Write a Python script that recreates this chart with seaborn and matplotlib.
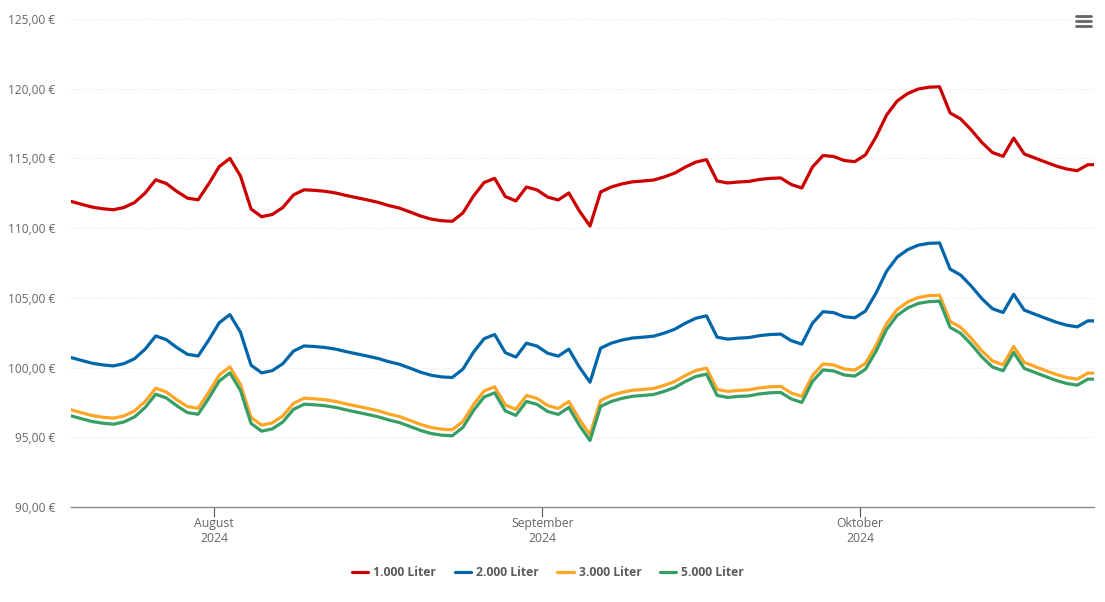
import matplotlib
matplotlib.use('Agg')
import matplotlib.pyplot as plt
import matplotlib.lines as mlines
import seaborn as sns
import pandas as pd

# daily prices, last point is the partial day at the right edge
dates = list(pd.date_range('2024-07-18 12:00', periods=97, freq='D')) + [pd.Timestamp('2024-10-23 02:00')]

liter_1000 = [111.92,111.71,111.51,111.39,111.32,111.48,111.84,112.52,113.47,113.2,
    112.63,112.15,112.03,113.17,114.42,115.0,113.74,111.37,110.82,110.98,
    111.48,112.38,112.75,112.71,112.64,112.52,112.34,112.18,112.02,111.85,
    111.62,111.44,111.16,110.87,110.65,110.53,110.49,111.09,112.3,113.27,
    113.57,112.27,111.95,112.95,112.74,112.23,112.02,112.52,111.23,110.15,
    112.59,112.95,113.17,113.32,113.38,113.45,113.67,113.95,114.38,114.74,
    114.91,113.38,113.24,113.31,113.35,113.49,113.57,113.6,113.13,112.88,
    114.38,115.21,115.14,114.85,114.77,115.25,116.54,118.11,119.12,119.66,
    119.98,120.11,120.14,118.26,117.83,117.04,116.14,115.42,115.15,116.46,
    115.32,115.03,114.74,114.46,114.24,114.12,114.55,114.55]

liter_2000 = [100.72,100.51,100.31,100.19,100.12,100.28,100.64,101.32,102.27,102.0,
    101.43,100.95,100.83,101.97,103.22,103.8,102.54,100.17,99.62,99.78,
    100.28,101.18,101.55,101.51,101.44,101.32,101.14,100.98,100.82,100.65,
    100.42,100.24,99.96,99.67,99.45,99.33,99.29,99.89,101.1,102.07,
    102.37,101.07,100.75,101.75,101.54,101.03,100.82,101.32,100.03,98.95,
    101.39,101.75,101.97,102.12,102.18,102.25,102.47,102.75,103.18,103.54,
    103.71,102.18,102.04,102.11,102.15,102.29,102.37,102.4,101.93,101.68,
    103.18,104.01,103.94,103.65,103.57,104.05,105.34,106.91,107.92,108.46,
    108.78,108.91,108.94,107.06,106.63,105.84,104.94,104.22,103.95,105.26,
    104.12,103.83,103.54,103.26,103.04,102.92,103.35,103.35]

liter_3000 = [96.97,96.76,96.56,96.44,96.37,96.53,96.89,97.57,98.52,98.25,
    97.68,97.2,97.08,98.22,99.47,100.05,98.79,96.42,95.87,96.03,
    96.53,97.43,97.8,97.76,97.69,97.57,97.39,97.23,97.07,96.9,
    96.67,96.49,96.21,95.92,95.7,95.58,95.54,96.14,97.35,98.32,
    98.62,97.32,97.0,98.0,97.79,97.28,97.07,97.57,96.28,95.2,
    97.64,98.0,98.22,98.37,98.43,98.5,98.72,99.0,99.43,99.79,
    99.96,98.43,98.29,98.36,98.4,98.54,98.62,98.65,98.18,97.93,
    99.43,100.26,100.19,99.9,99.82,100.3,101.59,103.16,104.17,104.71,
    105.03,105.16,105.19,103.31,102.88,102.09,101.19,100.47,100.2,101.51,
    100.37,100.08,99.79,99.51,99.29,99.17,99.6,99.6]

liter_5000 = [96.54,96.33,96.13,96.01,95.94,96.1,96.46,97.14,98.09,97.82,
    97.25,96.77,96.65,97.79,99.04,99.62,98.36,95.99,95.44,95.6,
    96.1,97.0,97.37,97.33,97.26,97.14,96.96,96.8,96.64,96.47,
    96.24,96.06,95.78,95.49,95.27,95.15,95.11,95.71,96.92,97.89,
    98.19,96.89,96.57,97.57,97.36,96.85,96.64,97.14,95.85,94.77,
    97.21,97.57,97.79,97.94,98.0,98.07,98.29,98.57,99.0,99.36,
    99.53,98.0,97.86,97.93,97.97,98.11,98.19,98.22,97.75,97.5,
    99.0,99.83,99.76,99.47,99.39,99.87,101.16,102.73,103.74,104.28,
    104.6,104.73,104.76,102.88,102.45,101.66,100.76,100.04,99.77,101.08,
    99.94,99.65,99.36,99.08,98.86,98.74,99.17,99.17]

series_names = ['1.000 Liter', '2.000 Liter', '3.000 Liter', '5.000 Liter']
colors = ['#cc0000', '#0066aa', '#ffa526', '#379e66']
y_ticks = [90, 95, 100, 105, 110, 115, 120, 125]
x_ticks = ['2024-08-01', '2024-09-01', '2024-10-01']
x_labels = ['August\n2024', 'September\n2024', 'Oktober\n2024']

sns.set_theme(style='white')
plt.rcParams['font.family'] = ['Open Sans', 'DejaVu Sans']

df = pd.DataFrame({'date': dates, '1.000 Liter': liter_1000, '2.000 Liter': liter_2000,
                   '3.000 Liter': liter_3000, '5.000 Liter': liter_5000})
long_df = df.melt(id_vars='date', var_name='menge', value_name='preis')

W, H = 1105, 602
fig = plt.figure(figsize=(W / 100, H / 100), dpi=100)
ax = fig.add_axes([71 / W, 1 - 507 / H, (1094 - 71) / W, (507 - 19) / H])

sns.lineplot(data=long_df, x='date', y='preis', hue='menge', hue_order=series_names,
             palette=colors, linewidth=2.3, ax=ax, legend=False, errorbar=None,
             solid_joinstyle='round', solid_capstyle='round')

ax.set_xlim(pd.Timestamp('2024-07-18 12:00'), pd.Timestamp('2024-10-23 02:00'))
ax.set_ylim(90, 125)
ax.set_xlabel('')
ax.set_ylabel('')

ax.set_yticks(y_ticks)
ax.set_yticklabels([f'{v},00 €' for v in y_ticks])
ax.set_xticks(pd.to_datetime(x_ticks))
ax.set_xticklabels(x_labels, linespacing=1.25)
ax.tick_params(axis='y', length=0, pad=11.4, labelsize=8.6, labelcolor='#666666')
ax.tick_params(axis='x', length=7.5, width=0.8, color='#555555', pad=-0.6, labelsize=8.8,
               labelcolor='#666666', bottom=True)

ax.grid(True, axis='y', color='#e6e6e6', linewidth=0.7, linestyle=(0, (1, 1.5)))
ax.set_axisbelow(True)
sns.despine(ax=ax, left=True, top=True, right=True)
ax.spines['bottom'].set_color('#888888')
ax.spines['bottom'].set_linewidth(1.0)

handles = [mlines.Line2D([], [], color=c, linewidth=2.3, solid_capstyle='round') for c in colors]
leg = fig.legend(handles, series_names, ncol=4, loc='center', bbox_to_anchor=(548 / W, 1 - 573 / H),
                 frameon=False, handlelength=1.35, handletextpad=0.42, columnspacing=1.53,
                 prop={'size': 8.7, 'weight': 'bold'})
for t in leg.get_texts():
    t.set_color('#5c5c5c')

# menu icon, top right
for y_px in [16.2, 21.2, 26.2]:
    fig.add_artist(mlines.Line2D([1076 / W, 1091 / W], [1 - y_px / H, 1 - y_px / H], color='#666666',
                                 linewidth=2.0, solid_capstyle='round'))

fig.savefig('out.png', dpi=100)
